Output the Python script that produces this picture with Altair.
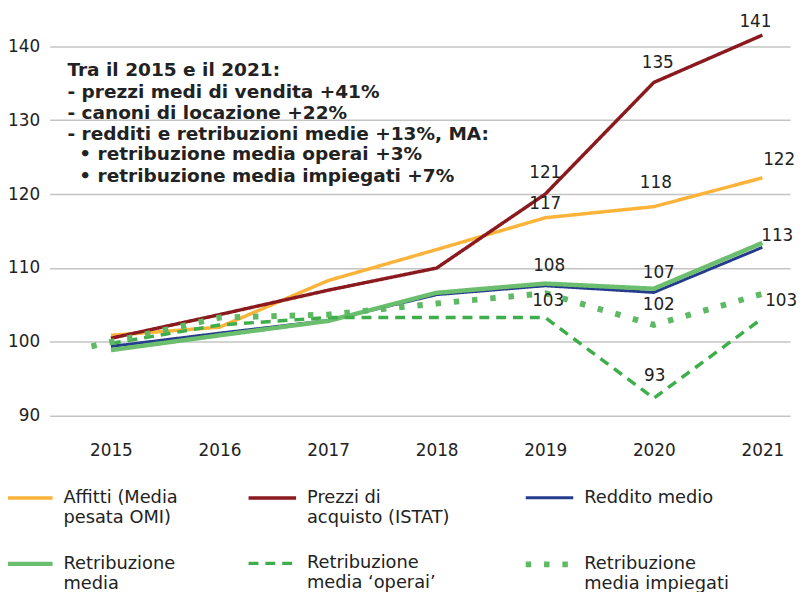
import altair as alt
import pandas as pd

# ---------------- data ----------------
years = [2015, 2016, 2017, 2018, 2019, 2020, 2021]
affitti = [100.9, 102.0, 108.3, 112.5, 116.8, 118.3, 122.2]
prezzi = [100.5, 103.7, 107.0, 110.0, 120.0, 135.1, 141.5]
reddito = [99.4, 101.2, 102.9, 106.4, 107.6, 106.7, 112.8]
retribuzione = [98.9, 100.9, 102.85, 106.65, 107.9, 107.2, 113.4]
operai = [99.8, 102.3, 103.3, 103.3, 103.3, 92.4, 103.2]
impiegati_years = [2014.82, 2016, 2017, 2018, 2019, 2020, 2021]
impiegati = [99.4, 103.3, 103.7, 105.2, 106.6, 102.3, 106.5]

names = [
    "Affitti (Media pesata OMI)",
    "Prezzi di acquisto (ISTAT)",
    "Reddito medio",
    "Retribuzione media",
    "Retribuzione media \u2018operai\u2019",
    "Retribuzione media impiegati",
]
legend_lines = [
    ["Affitti (Media", "pesata OMI)"],
    ["Prezzi di", "acquisto (ISTAT)"],
    ["Reddito medio", " "],
    ["Retribuzione", "media"],
    ["Retribuzione", "media \u2018operai\u2019"],
    ["Retribuzione", "media impiegati"],
]

note_lines = [
    "Tra il 2015 e il 2021:",
    "- prezzi medi di vendita +41%",
    "- canoni di locazione +22%",
    "- redditi e retribuzioni medie +13%, MA:",
]
note_bullets = [
    "\u2022 retribuzione media operai +3%",
    "\u2022 retribuzione media impiegati +7%",
]

label_series = [1, 1, 1, 0, 0, 0, 3, 3, 3, 4, 5, 4, 5]
label_years = [2021, 2020, 2019, 2019, 2020, 2021, 2019, 2020, 2021, 2019, 2020, 2020, 2021]
label_texts = ["141", "135", "121", "117", "118", "122", "108", "107", "113", "103", "102", "93", "103"]

# ---------------- styles ----------------
colors = ["#FBB33A", "#8B1A1E", "#253C8C", "#6ABE6E", "#3DAE49", "#5DB963"]
dashes = [[1, 0], [1, 0], [1, 0], [1, 0], [10, 7], [5.5, 13]]
widths = [3.5, 3.5, 3, 4.5, 3.5, 6]
label_offsets = [(-7, -13), (4, -20), (0, -21), (0, -14), (2, -24), (17, -18),
                 (4, -18), (5, -16), (15, -7), (3, -17), (5, -20), (1, -22), (19, 7)]
FONT = "DejaVu Sans"
TXT = "#222222"

# ---------------- build table ----------------
series_vals = [affitti, prezzi, reddito, retribuzione, operai, impiegati]
series_x = [years, years, years, years, years, impiegati_years]
rows = []
for i, (n, xs, vs) in enumerate(zip(names, series_x, series_vals)):
    for k, (x, v) in enumerate(zip(xs, vs)):
        rows.append({"serie": n, "anno": x, "valore": v, "k": k})
df = pd.DataFrame(rows)

label_expr = ""
for n, lines in zip(names, legend_lines):
    arr = "[" + ",".join("'" + l + "'" for l in lines) + "]"
    label_expr += "datum.label == '" + n + "' ? " + arr + " : "
label_expr += "datum.label"

leg = alt.Legend(
    title=None, orient="none", legendX=-48, legendY=464, columns=3, direction="horizontal",
    symbolType="stroke", symbolSize=2304, labelExpr=label_expr,
    labelFont=FONT, labelFontSize=18, labelColor=TXT, labelLimit=300,
    labelOffset=8, columnPadding=64, rowPadding=11, labelBaseline="middle",
)

xscale = alt.Scale(domain=[2014.435, 2021.255], nice=False, zero=False)
yscale = alt.Scale(domain=[88, 144.5], nice=False, zero=False)

lines = alt.Chart(df).mark_line(strokeJoin="round").encode(
    x=alt.X("anno:Q", scale=xscale,
            axis=alt.Axis(values=years, format="d", grid=False, domain=False, ticks=False,
                          tickSize=0, labelPadding=12, title=None)),
    y=alt.Y("valore:Q", scale=yscale,
            axis=alt.Axis(values=[90, 100, 110, 120, 130, 140], grid=True, domain=False,
                          ticks=False, tickSize=0, labelPadding=10, title=None)),
    color=alt.Color("serie:O", scale=alt.Scale(domain=names, range=colors), legend=leg),
    strokeDash=alt.StrokeDash("serie:O", scale=alt.Scale(domain=names, range=dashes), legend=leg),
    strokeWidth=alt.StrokeWidth("serie:O", scale=alt.Scale(type="ordinal", domain=names, range=widths),
                                legend=leg),
    detail="serie:O",
    order="k:Q",
)

layers = [lines]
for s, yr, t, (dx, dy) in zip(label_series, label_years, label_texts, label_offsets):
    xs = series_x[s]
    v = series_vals[s][xs.index(yr)]
    ldf = pd.DataFrame({"anno": [yr], "valore": [v], "t": [t]})
    layers.append(
        alt.Chart(ldf).mark_text(dx=dx, dy=dy, font=FONT, fontSize=17, color=TXT,
                                 align="center", baseline="middle").encode(
            x=alt.X("anno:Q", scale=xscale), y=alt.Y("valore:Q", scale=yscale), text="t:N")
    )

note = alt.Chart(pd.DataFrame({"t": ["\n".join(note_lines)]})).mark_text(
    align="left", baseline="alphabetic", lineBreak="\n", lineHeight=21.5,
    font=FONT, fontSize=18.7, fontWeight="bold", color=TXT,
).encode(x=alt.value(18), y=alt.value(64), text="t:N")
bullets = alt.Chart(pd.DataFrame({"t": ["\n".join(note_bullets)]})).mark_text(
    align="left", baseline="alphabetic", lineBreak="\n", lineHeight=21.5,
    font=FONT, fontSize=18.7, fontWeight="bold", color=TXT,
).encode(x=alt.value(30), y=alt.value(149), text="t:N")
layers += [note, bullets]

chart = alt.layer(*layers).properties(
    width=748, height=422,
    autosize=alt.AutoSizeParams(type="none"),
    padding={"left": 42, "top": 2, "right": 7, "bottom": 166},
).configure_view(stroke=None).configure_axis(
    labelFont=FONT, labelFontSize=17, labelColor=TXT,
    gridColor="#C4C4C4", gridWidth=1.5,
)

chart.save("out.html", embed_options={"renderer": "svg", "actions": False})
